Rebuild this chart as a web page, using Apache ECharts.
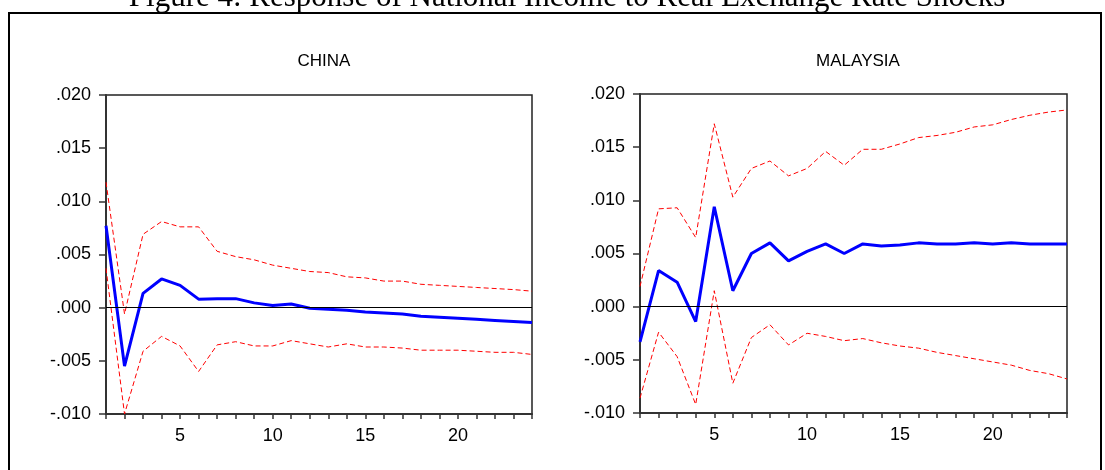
<!DOCTYPE html>
<html>
<head>
<meta charset="utf-8">
<script src="https://cdn.jsdelivr.net/npm/echarts@6/dist/echarts.min.js"></script>
<style>
html,body{margin:0;padding:0;background:#fff;}
#chart{width:1105px;height:470px;}
</style>
</head>
<body>
<div id="chart"></div>
<script>
// Horizon periods
const periods = [1,2,3,4,5,6,7,8,9,10,11,12,13,14,15,16,17,18,19,20,21,22,23,24];
const xTickLabels = [5,10,15,20];
const yTicks = [-0.010,-0.005,0.000,0.005,0.010,0.015,0.020];

const figureTitle = "Figure 4: Response of National Income to Real Exchange Rate Shocks";
const panelTitles = ["CHINA","MALAYSIA"];

// CHINA
const chinaResp  = [0.0077,-0.0055,0.00135,0.0027,0.0021,0.0008,0.00085,0.00085,0.00045,0.0002,0.00035,-0.00005,-0.00015,-0.00025,-0.0004,-0.0005,-0.0006,-0.0008,-0.0009,-0.001,-0.0011,-0.0012,-0.0013,-0.0014];
const chinaUpper = [0.0118,-0.0006,0.0069,0.0081,0.0076,0.0076,0.0053,0.0048,0.0045,0.0040,0.0037,0.0034,0.0033,0.0029,0.0028,0.0025,0.0025,0.0022,0.0021,0.0020,0.0019,0.0018,0.0017,0.00155];
const chinaLower = [0.0037,-0.0100,-0.0041,-0.0027,-0.0036,-0.0060,-0.0035,-0.0032,-0.0036,-0.0036,-0.0031,-0.0034,-0.0037,-0.0034,-0.0037,-0.0037,-0.0038,-0.0040,-0.0040,-0.0040,-0.0041,-0.0042,-0.0042,-0.0044];

// MALAYSIA
const malResp  = [-0.0033,0.0034,0.0023,-0.0014,0.0094,0.0015,0.0050,0.0060,0.0043,0.0052,0.0059,0.0050,0.0059,0.0057,0.0058,0.0060,0.0059,0.0059,0.0060,0.0059,0.0060,0.0059,0.0059,0.0059];
const malUpper = [0.0019,0.0092,0.0093,0.0065,0.0172,0.0103,0.0130,0.0137,0.0123,0.0130,0.0146,0.0133,0.0148,0.0148,0.0153,0.0159,0.0161,0.0164,0.0169,0.0171,0.0176,0.0180,0.0183,0.0185];
const malLower = [-0.0086,-0.0024,-0.0047,-0.0092,0.0015,-0.0072,-0.0029,-0.0017,-0.0036,-0.0025,-0.0028,-0.0032,-0.0030,-0.0034,-0.0037,-0.0039,-0.0043,-0.0046,-0.0049,-0.0052,-0.0055,-0.0060,-0.0063,-0.0068];

const pair = arr => periods.map((p,i)=>[p,arr[i]]);
const fmtY = v => {
  const s = Math.abs(v).toFixed(3).replace(/^0/,'');
  return (v < -1e-9 ? '-' : '') + s;
};
const FONT = '"Liberation Sans", Arial, sans-serif';

const grids = [
  {left:106, top:95, width:426, height:319},
  {left:640, top:94, width:427, height:319}
];

function xAxis(i){
  return {
    type:'value', gridIndex:i, min:1, max:24, interval:1,
    axisLine:{show:true, onZero:false, lineStyle:{color:'#333', width:2}},
    axisTick:{show:true, inside:false, length:5, lineStyle:{color:'#333', width:1.5}},
    axisLabel:{margin:13, color:'#000', fontFamily:FONT, fontSize:18,
      formatter:v => xTickLabels.indexOf(v) >= 0 ? String(v) : ''},
    splitLine:{show:false}
  };
}
function yAxis(i){
  return {
    type:'value', gridIndex:i, min:yTicks[0], max:yTicks[yTicks.length-1], interval:0.005,
    axisLine:{show:true, onZero:false, lineStyle:{color:'#333', width:2}},
    axisTick:{show:true, inside:false, length:7, lineStyle:{color:'#333', width:1.5}},
    axisLabel:{margin:15, color:'#000', fontFamily:FONT, fontSize:18, formatter:fmtY},
    splitLine:{show:false}
  };
}
function series(i, resp, up, lo){
  const band = d => ({type:'line', xAxisIndex:i, yAxisIndex:i, data:pair(d), symbol:'none',
    silent:true, z:2, lineStyle:{color:'#ff0000', width:1, type:[5,3]}});
  return [
    band(up), band(lo),
    {type:'line', xAxisIndex:i, yAxisIndex:i, data:pair(resp), symbol:'none', z:3,
     lineStyle:{color:'#0000ff', width:3},
     markLine:{silent:true, symbol:'none', label:{show:false},
       lineStyle:{color:'#000', width:1, type:'solid'}, data:[{yAxis:0}]}}
  ];
}

const chart = echarts.init(document.getElementById('chart'), null, {renderer:'canvas'});
chart.setOption({
  animation:false,
  backgroundColor:'#fff',
  title:[
    {text:figureTitle, left:562, top:-23, textAlign:'center',
     textStyle:{fontFamily:'"Liberation Serif","Times New Roman",serif', fontSize:31, fontWeight:'normal', color:'#000'}},
    {text:panelTitles[0], left:319, top:48, textAlign:'center',
     textStyle:{fontFamily:FONT, fontSize:17, fontWeight:'normal', color:'#000'}},
    {text:panelTitles[1], left:853, top:48, textAlign:'center',
     textStyle:{fontFamily:FONT, fontSize:17, fontWeight:'normal', color:'#000'}}
  ],
  grid: grids.map(g => Object.assign({show:true, borderColor:'#222', borderWidth:1.5, backgroundColor:'transparent'}, g)),
  xAxis:[xAxis(0), xAxis(1)],
  yAxis:[yAxis(0), yAxis(1)],
  series:[...series(0, chinaResp, chinaUpper, chinaLower), ...series(1, malResp, malUpper, malLower)],
  graphic:[
    {type:'rect', shape:{x:9, y:13, width:1092, height:500}, style:{fill:'none', stroke:'#000', lineWidth:2}, silent:true}
  ]
});
</script>
</body>
</html>
